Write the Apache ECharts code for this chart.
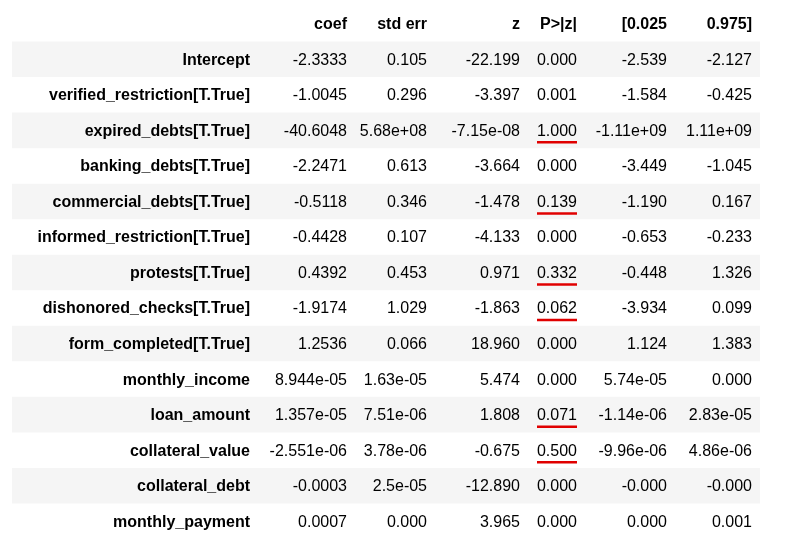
<!DOCTYPE html>
<html>
<head>
<meta charset="utf-8">
<script src="https://cdn.jsdelivr.net/npm/echarts@6/dist/echarts.min.js"></script>
<style>html,body{margin:0;padding:0;background:#fff}#container{width:789px;height:547px}</style>
</head>
<body>
<div id="container"></div>
<script>
var headers = ['', 'coef', 'std err', 'z', 'P>|z|', '[0.025', '0.975]'];
var rowNames = ['Intercept', 'verified_restriction[T.True]', 'expired_debts[T.True]', 'banking_debts[T.True]',
    'commercial_debts[T.True]', 'informed_restriction[T.True]', 'protests[T.True]', 'dishonored_checks[T.True]',
    'form_completed[T.True]', 'monthly_income', 'loan_amount', 'collateral_value', 'collateral_debt', 'monthly_payment'];
var coef = ['-2.3333', '-1.0045', '-40.6048', '-2.2471', '-0.5118', '-0.4428', '0.4392', '-1.9174', '1.2536',
    '8.944e-05', '1.357e-05', '-2.551e-06', '-0.0003', '0.0007'];
var stdErr = ['0.105', '0.296', '5.68e+08', '0.613', '0.346', '0.107', '0.453', '1.029', '0.066',
    '1.63e-05', '7.51e-06', '3.78e-06', '2.5e-05', '0.000'];
var zVal = ['-22.199', '-3.397', '-7.15e-08', '-3.664', '-1.478', '-4.133', '0.971', '-1.863', '18.960',
    '5.474', '1.808', '-0.675', '-12.890', '3.965'];
var pVal = ['0.000', '0.001', '1.000', '0.000', '0.139', '0.000', '0.332', '0.062', '0.000',
    '0.000', '0.071', '0.500', '0.000', '0.000'];
var ciLow = ['-2.539', '-1.584', '-1.11e+09', '-3.449', '-1.190', '-0.653', '-0.448', '-3.934', '1.124',
    '5.74e-05', '-1.14e-06', '-9.96e-06', '-0.000', '0.000'];
var ciHigh = ['-2.127', '-0.425', '1.11e+09', '-1.045', '0.167', '-0.233', '1.326', '0.099', '1.383',
    '0.000', '2.83e-05', '4.86e-06', '-0.000', '0.001'];
var underlined = [false, false, true, false, true, false, true, true, false, false, true, true, false, false];

// right edges of columns (axis units)
var colRight = [238, 335, 415, 508, 565, 655, 740];

var rows = [headers];
for (var i = 0; i < rowNames.length; i++) {
    rows.push([rowNames[i], coef[i], stdErr[i], zVal[i], pVal[i], ciLow[i], ciHigh[i]]);
}
var yCats = rows.map(function (r, i) { return 'r' + i; });

var myChart = echarts.init(document.getElementById('container'));
var FONT = '"Liberation Sans", Arial, sans-serif';

function renderRow(params, api) {
    var idx = api.value(0);
    var r = rows[idx];
    var c = api.coord([0, idx]);
    var h = api.size([0, 1])[1];
    var x0 = api.coord([0, idx])[0];
    var x1 = api.coord([748, idx])[0];
    var children = [];
    if (idx % 2 === 1) {
        children.push({type: 'rect', shape: {x: x0, y: c[1] - h / 2, width: x1 - x0, height: h},
            style: {fill: '#f5f5f5'}});
    }
    for (var j = 0; j < r.length; j++) {
        var bold = idx === 0 || j === 0;
        children.push({type: 'text', style: {
            text: r[j], x: api.coord([colRight[j], idx])[0], y: c[1] + 1,
            align: 'right', verticalAlign: 'middle',
            font: (bold ? 'bold ' : '') + '16px ' + FONT, fill: '#000'
        }});
    }
    if (idx > 0 && underlined[idx - 1]) {
        var ux1 = api.coord([colRight[4], idx])[0];
        children.push({type: 'line', shape: {x1: ux1 - 40, y1: c[1] + 12, x2: ux1, y2: c[1] + 12},
            style: {stroke: '#e00000', lineWidth: 2.5}});
    }
    return {type: 'group', children: children};
}

option = {
    animation: false,
    grid: {left: 12, right: 29, top: 6, bottom: 8},
    xAxis: {type: 'value', min: 0, max: 748, show: false},
    yAxis: {type: 'category', data: yCats, inverse: true, show: false},
    series: [{
        type: 'custom',
        renderItem: renderRow,
        data: rows.map(function (r, i) { return [i]; }),
        encode: {y: 0}
    }]
};
myChart.setOption(option, true);
</script>
</body>
</html>
